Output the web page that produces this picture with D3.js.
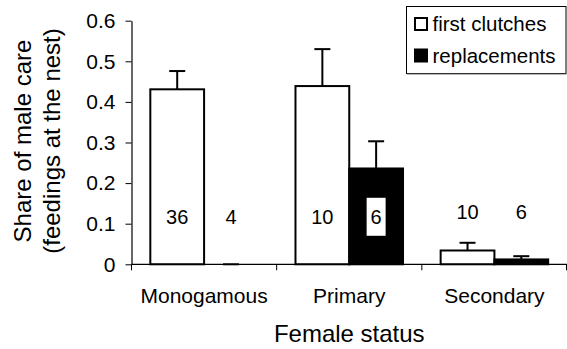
<!DOCTYPE html>
<html>
<head>
<meta charset="utf-8">
<script src="https://cdn.jsdelivr.net/npm/d3@7"></script>
<style>
  html, body { margin: 0; padding: 0; background: #fff; }
  svg { display: block; font-family: "Liberation Sans", Arial, sans-serif; }
</style>
</head>
<body>
<svg id="chart" width="567" height="349"></svg>
<script>
// Female status groups and the two clutch types
const categories = ["Monogamous", "Primary", "Secondary"];
const seriesNames = ["first clutches", "replacements"];

// Mean share of male care and upper error (SE) per group
const firstMeans = [0.431, 0.439, 0.034];
const firstErrors = [0.045, 0.091, 0.019];
const replacementMeans = [0, 0.236, 0.012];
const replacementErrors = [0, 0.067, 0.008];

// Sample sizes printed on the bars
const firstCounts = [36, 10, 10];
const replacementCounts = [4, 6, 6];

const yTicks = [0, 0.1, 0.2, 0.3, 0.4, 0.5, 0.6];
const yTickLabels = ["0", "0.1", "0.2", "0.3", "0.4", "0.5", "0.6"];

const rows = [];
categories.forEach((c, i) => {
  rows.push({ cat: c, series: seriesNames[0], value: firstMeans[i], err: firstErrors[i], n: firstCounts[i] });
  rows.push({ cat: c, series: seriesNames[1], value: replacementMeans[i], err: replacementErrors[i], n: replacementCounts[i] });
});

const svg = d3.select("#chart");
const plot = { left: 131.5, right: 567, top: 20.7, bottom: 264.3 };

const x = d3.scaleBand().domain(categories).range([plot.left, plot.right]).padding(0);
const xs = d3.scaleBand().domain(seriesNames).range([0, x.bandwidth()]).paddingInner(0).paddingOuter(0.35);
const y = d3.scaleLinear().domain([0, 0.6]).range([plot.bottom, plot.top]);
const fill = d3.scaleOrdinal().domain(seriesNames).range(["#fff", "#000"]);

// Bars
const g = svg.append("g");
g.selectAll("rect.bar").data(rows).join("rect")
  .attr("class", "bar")
  .attr("x", d => x(d.cat) + xs(d.series))
  .attr("width", xs.bandwidth())
  .attr("y", d => y(d.value))
  .attr("height", d => y(0) - y(d.value))
  .attr("fill", d => fill(d.series))
  .attr("stroke", "#000")
  .attr("stroke-width", 2);

// Upper error bars
const capHalf = 8;
const eb = g.selectAll("g.err").data(rows).join("g").attr("class", "err");
eb.append("line")
  .attr("x1", d => x(d.cat) + xs(d.series) + xs.bandwidth() / 2)
  .attr("x2", d => x(d.cat) + xs(d.series) + xs.bandwidth() / 2)
  .attr("y1", d => y(d.value))
  .attr("y2", d => y(d.value + d.err))
  .attr("stroke", "#000").attr("stroke-width", 2);
eb.append("line")
  .attr("x1", d => x(d.cat) + xs(d.series) + xs.bandwidth() / 2 - capHalf)
  .attr("x2", d => x(d.cat) + xs(d.series) + xs.bandwidth() / 2 + capHalf)
  .attr("y1", d => y(d.value + d.err))
  .attr("y2", d => y(d.value + d.err))
  .attr("stroke", "#000").attr("stroke-width", 2);

// Sample-size labels
const labelLevel = 0.117;
const labelY = d => y(labelLevel) - (d.cat === "Secondary" ? 5 : 0);
const labels = g.selectAll("g.lab").data(rows).join("g").attr("class", "lab")
  .attr("transform", d => `translate(${x(d.cat) + xs(d.series) + xs.bandwidth() / 2},${labelY(d)})`);
labels.filter(d => fill(d.series) === "#000" && d.value > labelLevel)
  .append("rect")
  .attr("x", -9.5).attr("y", -19).attr("width", 19).attr("height", 38)
  .attr("fill", "#fff");
labels.append("text")
  .attr("text-anchor", "middle")
  .attr("dy", "0.36em")
  .attr("font-size", 20)
  .attr("fill", "#000")
  .text(d => d.n);

// Y axis
const yAxis = svg.append("g")
  .attr("transform", `translate(${plot.left},0)`)
  .call(d3.axisLeft(y).tickValues(yTicks).tickFormat((d, i) => yTickLabels[i]).tickSize(6).tickSizeOuter(0).tickPadding(10));
yAxis.selectAll("text").attr("font-size", 21).attr("font-family", "Liberation Sans, Arial, sans-serif").attr("fill", "#000");
yAxis.selectAll("line, path").attr("stroke", "#000");
yAxis.select("path").attr("stroke-width", 1.2);

// X axis: baseline, boundary ticks, category labels
const xAxis = svg.append("g");
xAxis.append("line")
  .attr("x1", plot.left).attr("x2", plot.right)
  .attr("y1", y(0)).attr("y2", y(0))
  .attr("stroke", "#000").attr("stroke-width", 1.2);
const bounds = categories.map(c => x(c)).concat([x.range()[1] - 0.5]);
xAxis.selectAll("line.tick").data(bounds).join("line")
  .attr("class", "tick")
  .attr("x1", d => d).attr("x2", d => d)
  .attr("y1", y(0)).attr("y2", y(0) + 6)
  .attr("stroke", "#000");
xAxis.selectAll("text").data(categories).join("text")
  .attr("x", d => x(d) + x.bandwidth() / 2)
  .attr("y", 303.3)
  .attr("text-anchor", "middle")
  .attr("font-size", 21)
  .text(d => d);

// Axis titles
svg.append("text")
  .attr("x", (plot.left + plot.right) / 2)
  .attr("y", 341.7)
  .attr("text-anchor", "middle")
  .attr("font-size", 24)
  .text("Female status");
const yt = svg.append("text")
  .attr("transform", "translate(0,141) rotate(-90)")
  .attr("text-anchor", "middle")
  .attr("font-size", 24);
yt.append("tspan").attr("x", 0).attr("y", 31).text("Share of male care");
yt.append("tspan").attr("x", 0).attr("y", 60).text("(feedings at the nest)");

// Legend
const legend = svg.append("g");
legend.append("rect")
  .attr("x", 406.5).attr("y", 6.5).attr("width", 159.5).attr("height", 67)
  .attr("fill", "#fff").attr("stroke", "#000").attr("stroke-width", 1);
legend.append("line")
  .attr("x1", 407).attr("x2", 566.5).attr("y1", 74.2).attr("y2", 74.2)
  .attr("stroke", "#999").attr("stroke-width", 1);
const rowY = [24, 55.5];
const items = legend.selectAll("g.item").data(seriesNames).join("g").attr("class", "item")
  .attr("transform", (d, i) => `translate(0,${rowY[i]})`);
items.append("rect")
  .attr("x", 415).attr("y", -6).attr("width", 12).attr("height", 12)
  .attr("fill", d => fill(d)).attr("stroke", "#000").attr("stroke-width", 2);
items.append("text")
  .attr("x", 432.5).attr("y", 7)
  .attr("font-size", 20.5)
  .text(d => d);
</script>
</body>
</html>
